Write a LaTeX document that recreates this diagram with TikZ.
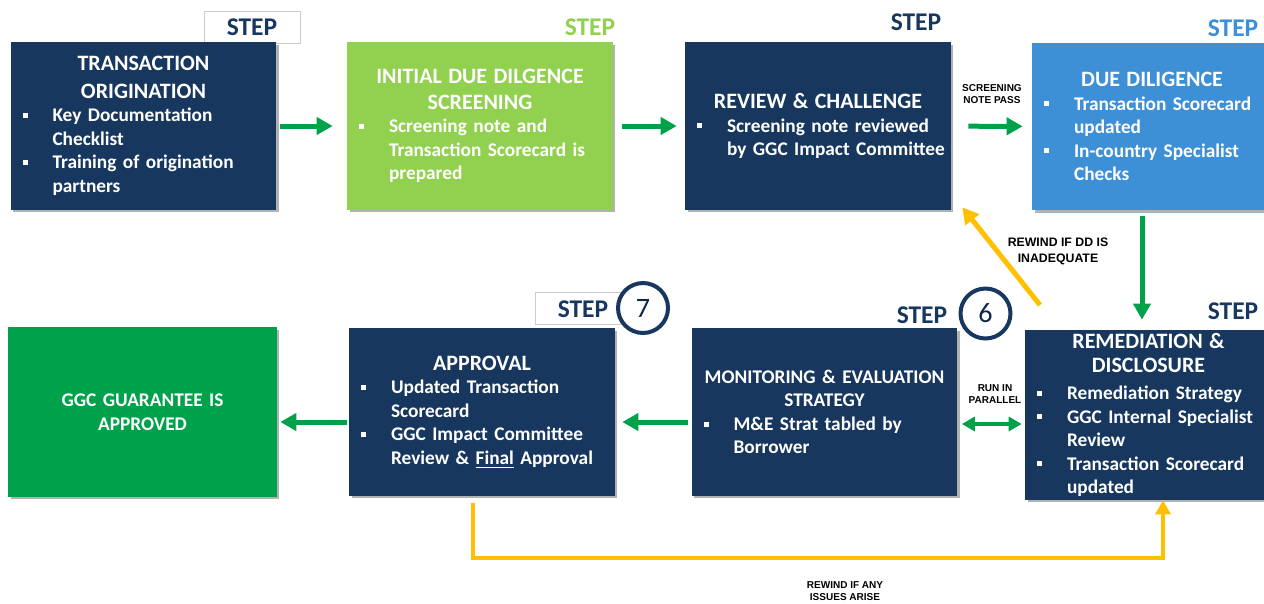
\documentclass[tikz,border=0pt]{standalone}
\usepackage{fontspec}
\setmainfont{Carlito}
\newfontfamily\labelfont{Liberation Sans}
\usetikzlibrary{arrows.meta,shadows}

\definecolor{navy}{HTML}{17375E}
\definecolor{leaf}{HTML}{92D050}
\definecolor{sky}{HTML}{3D8FD6}
\definecolor{grass}{HTML}{00A14B}
\definecolor{amber}{HTML}{FFC000}
\definecolor{ink}{HTML}{0F2748}

\newcommand{\btitle}[1]{{\centering\fontsize{12.5}{14.5}\selectfont #1\par}}
% bullet line with hanging indent; \\ must not end the paragraph here
\newcommand{\bitem}[1]{\par\raggedright\let\\\newline\hangindent=0.78cm\hangafter=1%
  \noindent\makebox[0.78cm][l]{\hspace{0.18cm}\raisebox{0.2em}{\rule{0.1cm}{0.1cm}}}#1\par}

\begin{document}
\begin{tikzpicture}[x=0.02cm,y=-0.02cm,
  box/.style={minimum width=5.32cm, minimum height=3.36cm, text width=5.2cm,
    inner xsep=0.06cm, inner ysep=0pt, text=white,
    font=\bfseries\fontsize{11}{13.4}\selectfont,
    drop shadow={shadow xshift=0.05cm, shadow yshift=-0.05cm, fill=black, opacity=0.3}},
  stepword/.style={font=\bfseries\fontsize{14.5}{15}\selectfont, text=navy, inner sep=0pt},
  stepbox/.style={draw=black!20, fill=white, minimum height=0.64cm},
  numc/.style={circle, draw=navy, line width=0.08cm, fill=white, minimum size=1cm,
    inner sep=0pt, text=ink, font=\fontsize{16}{16}\selectfont},
  lbl/.style={font=\labelfont\bfseries\fontsize{5.7}{6.8}\selectfont, align=center, inner sep=0pt},
  flow/.style={draw=grass, line width=0.1cm, -{Triangle[length=0.32cm,width=0.34cm]}},
  rewind/.style={draw=amber, line width=0.1cm, -{Triangle[length=0.32cm,width=0.34cm]}}]
 \useasboundingbox (0,0) rectangle (1264,603);

 \node[stepbox,stepword,minimum width=1.92cm] (s1) at (252,27) {STEP};
 \node[stepword,text=leaf] (s2) at (590,27) {STEP};
 \node[stepword] (s3) at (916,22) {STEP};
 \node[stepword,text=sky] (s4) at (1233,28) {STEP};
 \node[stepword] (s5) at (1233,311) {STEP};
 \node[stepword] (s6) at (922,315) {STEP};
 \node[stepbox,minimum width=1.8cm] (s7box) at (580,308) {};
 \node[stepword] (s7) at (583,309) {STEP};

 \node[box,fill=navy] (orig) at (143.5,126) {%
  {\centering\fontsize{12.5}{15.5}\selectfont TRANSACTION\\ORIGINATION\par}
  \bitem{Key Documentation\\Checklist}
  \bitem{Training of origination\\partners}};
 \node[box,fill=leaf] (scr) at (480,126) {\btitle{INITIAL DUE DILGENCE\\SCREENING}
  \bitem{Screening note and\\Transaction Scorecard is\\prepared}};
 \node[box,fill=navy] (rev) at (818,126) {\btitle{REVIEW \& CHALLENGE}
  \bitem{Screening note reviewed\\by GGC Impact Committee}};
 \node[box,fill=sky,minimum width=4.8cm,text width=4.68cm] (dd) at (1152,126.5) {\btitle{DUE DILIGENCE}
  \bitem{Transaction Scorecard\\updated}
  \bitem{In-country Specialist\\Checks}};
 \node[box,fill=navy,minimum width=4.94cm,text width=4.82cm,minimum height=3.4cm] (remed) at (1148.5,415) {%
  {\centering\fontsize{12.5}{13.6}\selectfont REMEDIATION \&\\DISCLOSURE\par}\vspace{2pt}
  \bitem{Remediation Strategy}
  \bitem{GGC Internal Specialist\\Review}
  \bitem{Transaction Scorecard\\updated}};
 \node[box,fill=navy] (mon) at (824.5,412) {%
  {\centering MONITORING \& EVALUATION\\STRATEGY\par}
  \bitem{M\&E Strat tabled by\\Borrower}};
 \node[box,fill=navy] (appr) at (482,412) {\btitle{APPROVAL}
  \bitem{Updated Transaction\\Scorecard}
  \bitem{GGC Impact Committee\\Review \& \underline{Final} Approval}};
 \node[box,fill=grass,minimum width=5.38cm,minimum height=3.4cm,align=center] (guar) at (142.5,412) {GGC GUARANTEE IS\\APPROVED};

 \node[numc] (c6) at (985.5,313.5) {6};
 \node[numc] (c7) at (643,308) {7};

 \draw[flow,shorten <=0.06cm,shorten >=0.28cm] (orig) -- (scr);
 \draw[flow,shorten <=0.18cm,shorten >=0.16cm] (scr) -- (rev);
 \draw[flow,shorten <=0.34cm,shorten >=0.18cm] (rev) -- (dd);
 \node[lbl] (pass) at (992,94) {SCREENING\\NOTE PASS};

 \coordinate (down) at (1142,0);
 \draw[flow,shorten <=0.1cm,shorten >=0.2cm] (dd.south -| down) -- (remed.north -| down);

 \coordinate (rw) at (1040,305);
 \draw[rewind] (rw) -- ([xshift=0.22cm,yshift=0.06cm]rev.south east);
 \node[lbl,font=\labelfont\bfseries\fontsize{7}{9}\selectfont] (inad) at (1058,251) {REWIND IF DD IS\\INADEQUATE};

 \coordinate (par) at ([yshift=-0.24cm]mon.east);
 \draw[flow,line width=0.08cm,{Triangle[length=0.26cm,width=0.28cm]}-{Triangle[length=0.26cm,width=0.28cm]},
  shorten <=0.08cm,shorten >=0.06cm] (par) -- (par -| remed.west);
 \node[lbl] (para) at (995,394) {RUN IN\\PARALLEL};

 \coordinate (back1) at ([yshift=-0.2cm]mon.west);
 \draw[flow,shorten <=0.06cm] (back1) -- ([xshift=0.14cm]back1 -| appr.east);
 \coordinate (back2) at ([yshift=-0.2cm]appr.west);
 \draw[flow,shorten <=0.04cm] (back2) -- ([xshift=0.06cm]back2 -| guar.east);

 \coordinate (loopa) at ([xshift=-0.18cm,yshift=-0.14cm]appr.south);
 \coordinate (loopb) at ([xshift=0.29cm]remed.south);
 \draw[rewind,line width=0.08cm,-{Triangle[length=0.28cm,width=0.3cm]}] (loopa) -- ++(0,55) -| (loopb);
 \node[lbl] (issue) at (845,591) {REWIND IF ANY\\ISSUES ARISE};
\end{tikzpicture}
\end{document}
